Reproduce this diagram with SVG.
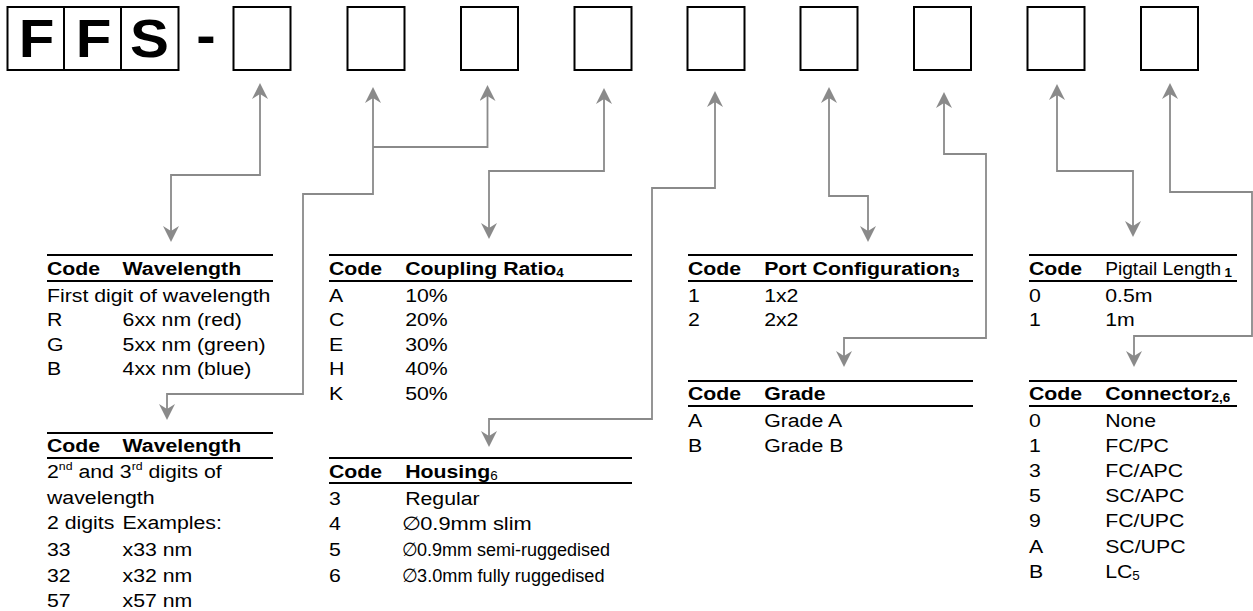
<svg xmlns="http://www.w3.org/2000/svg" width="1253" height="611" viewBox="0 0 1253 611">
<style>
.t{font-family:"Liberation Sans",Arial,Helvetica,sans-serif;font-size:19px;fill:#000}
.b{font-weight:bold}
.sub{font-size:12px}
.sup{font-size:11px}
.big{font-family:"Liberation Sans",Arial,Helvetica,sans-serif;font-size:53px;font-weight:bold;fill:#000}
.rule{stroke:#000;stroke-width:2}
.box{fill:#fff;stroke:#000;stroke-width:2}
.conn{fill:none;stroke:#8a8a8a;stroke-width:1.8}
.both{marker-start:url(#ah);marker-end:url(#ah)}
.start{marker-start:url(#ah)}
</style>
<defs>
<marker id="ah" viewBox="0 0 16 16" refX="12" refY="8" markerWidth="16" markerHeight="16" markerUnits="userSpaceOnUse" orient="auto-start-reverse">
<path d="M0,0 L16,8 L0,16 L5,8 Z" fill="#8a8a8a"/>
</marker>
</defs>
<rect width="1253" height="611" fill="#fff"/>

<g id="prefix">
<rect class="box" x="7.5" y="7" width="171" height="63"/>
<line class="rule" x1="64" y1="7" x2="64" y2="70"/>
<line class="rule" x1="121" y1="7" x2="121" y2="70"/>
<text class="big" text-anchor="middle" transform="translate(36.5 57) scale(1.1 1)">F</text>
<text class="big" text-anchor="middle" transform="translate(93.5 57) scale(1.1 1)">F</text>
<text class="big" text-anchor="middle" transform="translate(149.5 57) scale(1.1 1)">S</text>
<text class="big" text-anchor="middle" transform="translate(206 54) scale(1.1 1)">-</text>
</g>

<g id="slot1"><rect class="box" x="233.5" y="7" width="57" height="63"/></g>
<g id="slot2"><rect class="box" x="347.5" y="7" width="57" height="63"/></g>
<g id="slot3"><rect class="box" x="461" y="7" width="57" height="63"/></g>
<g id="slot4"><rect class="box" x="574.5" y="7" width="57" height="63"/></g>
<g id="slot5"><rect class="box" x="687.5" y="7" width="57" height="63"/></g>
<g id="slot6"><rect class="box" x="800.5" y="7" width="57" height="63"/></g>
<g id="slot7"><rect class="box" x="914" y="7" width="57" height="63"/></g>
<g id="slot8"><rect class="box" x="1027.5" y="7" width="57" height="63"/></g>
<g id="slot9"><rect class="box" x="1141" y="7" width="57" height="63"/></g>

<g id="connectors">
<path class="conn both" d="M260,87 V175 H171 V238"/>
<path class="conn both" d="M373,91 V194 H303 V394 H167 V416"/>
<path class="conn start" d="M487.5,89 V147 H373"/>
<path class="conn both" d="M604,92 V171 H489 V235"/>
<path class="conn both" d="M715,95 V188 H652 V419 H489 V443"/>
<path class="conn both" d="M829,91 V196 H868 V238"/>
<path class="conn both" d="M944,96 V154 H986 V338 H844 V363"/>
<path class="conn both" d="M1057,88 V171 H1133 V233"/>
<path class="conn both" d="M1170,87 V192 H1252 V336 H1134 V363"/>
</g>

<g id="tbl-wavelength-first">
<line class="rule" x1="47" y1="255" x2="273" y2="255"/>
<line class="rule" x1="47" y1="281" x2="273" y2="281"/>
<g transform="translate(47 0) scale(1.12 1)">
<text class="t b" x="0" y="275">Code</text>
<text class="t b" x="67.5" y="275">Wavelength</text>
<text class="t" x="0" y="302">First digit of wavelength</text>
<text class="t" x="0" y="326">R</text><text class="t" x="67.5" y="326">6xx nm (red)</text>
<text class="t" x="0" y="351">G</text><text class="t" x="67.5" y="351">5xx nm (green)</text>
<text class="t" x="0" y="375">B</text><text class="t" x="67.5" y="375">4xx nm (blue)</text>
</g>
</g>

<g id="tbl-wavelength-digits">
<line class="rule" x1="47" y1="433" x2="273" y2="433"/>
<line class="rule" x1="47" y1="458" x2="273" y2="458"/>
<g transform="translate(47 0) scale(1.12 1)">
<text class="t b" x="0" y="452">Code</text>
<text class="t b" x="67.5" y="452">Wavelength</text>
<text class="t" x="0" y="478">2<tspan class="sup" dy="-8">nd</tspan><tspan dy="8"> and 3</tspan><tspan class="sup" dy="-8">rd</tspan><tspan dy="8"> digits of</tspan></text>
<text class="t" x="0" y="504">wavelength</text>
<text class="t" x="0" y="529">2 digits</text><text class="t" x="67.5" y="529">Examples:</text>
<text class="t" x="0" y="556">33</text><text class="t" x="67.5" y="556">x33 nm</text>
<text class="t" x="0" y="582">32</text><text class="t" x="67.5" y="582">x32 nm</text>
<text class="t" x="0" y="607">57</text><text class="t" x="67.5" y="607">x57 nm</text>
</g>
</g>

<g id="tbl-coupling">
<line class="rule" x1="329" y1="255" x2="632" y2="255"/>
<line class="rule" x1="329" y1="281" x2="632" y2="281"/>
<g transform="translate(329 0) scale(1.12 1)">
<text class="t b" x="0" y="275">Code</text>
<text class="t b" x="68" y="275">Coupling Ratio<tspan class="sub" dy="2">4</tspan></text>
<text class="t" x="0" y="302">A</text><text class="t" x="68" y="302">10%</text>
<text class="t" x="0" y="326">C</text><text class="t" x="68" y="326">20%</text>
<text class="t" x="0" y="351">E</text><text class="t" x="68" y="351">30%</text>
<text class="t" x="0" y="375">H</text><text class="t" x="68" y="375">40%</text>
<text class="t" x="0" y="400">K</text><text class="t" x="68" y="400">50%</text>
</g>
</g>

<g id="tbl-housing">
<line class="rule" x1="329" y1="458" x2="632" y2="458"/>
<line class="rule" x1="329" y1="483" x2="632" y2="483"/>
<g transform="translate(329 0) scale(1.12 1)">
<text class="t b" x="0" y="478">Code</text>
<text class="t b" x="68" y="478">Housing<tspan class="sub" font-weight="normal" dy="2">6</tspan></text>
<text class="t" x="0" y="505">3</text><text class="t" x="68" y="505">Regular</text>
<text class="t" x="0" y="530">4</text><text class="t" x="65" y="530" textLength="116" lengthAdjust="spacingAndGlyphs">∅0.9mm slim</text>
<text class="t" x="0" y="556">5</text><text class="t" x="65" y="556" textLength="186" lengthAdjust="spacingAndGlyphs">∅0.9mm semi-ruggedised</text>
<text class="t" x="0" y="582">6</text><text class="t" x="65" y="582" textLength="181" lengthAdjust="spacingAndGlyphs">∅3.0mm fully ruggedised</text>
</g>
</g>

<g id="tbl-port">
<line class="rule" x1="688" y1="255" x2="973" y2="255"/>
<line class="rule" x1="688" y1="281" x2="973" y2="281"/>
<g transform="translate(688 0) scale(1.12 1)">
<text class="t b" x="0" y="275">Code</text>
<text class="t b" x="68" y="275">Port Configuration<tspan class="sub" dy="2">3</tspan></text>
<text class="t" x="0" y="302">1</text><text class="t" x="68" y="302">1x2</text>
<text class="t" x="0" y="326">2</text><text class="t" x="68" y="326">2x2</text>
</g>
</g>

<g id="tbl-grade">
<line class="rule" x1="688" y1="381" x2="973" y2="381"/>
<line class="rule" x1="688" y1="406" x2="973" y2="406"/>
<g transform="translate(688 0) scale(1.12 1)">
<text class="t b" x="0" y="400">Code</text>
<text class="t b" x="68" y="400">Grade</text>
<text class="t" x="0" y="427">A</text><text class="t" x="68" y="427">Grade A</text>
<text class="t" x="0" y="452">B</text><text class="t" x="68" y="452">Grade B</text>
</g>
</g>

<g id="tbl-pigtail">
<line class="rule" x1="1029" y1="255" x2="1237" y2="255"/>
<line class="rule" x1="1029" y1="281" x2="1237" y2="281"/>
<g transform="translate(1029 0) scale(1.12 1)">
<text class="t b" x="0" y="275">Code</text>
<text class="t" transform="translate(68 275) scale(0.9 1)">Pigtail Length</text>
<text class="t b sub" x="174.5" y="277">1</text>
<text class="t" x="0" y="302">0</text><text class="t" x="68" y="302">0.5m</text>
<text class="t" x="0" y="326">1</text><text class="t" x="68" y="326">1m</text>
</g>
</g>

<g id="tbl-connector">
<line class="rule" x1="1029" y1="381" x2="1237" y2="381"/>
<line class="rule" x1="1029" y1="406" x2="1237" y2="406"/>
<g transform="translate(1029 0) scale(1.12 1)">
<text class="t b" x="0" y="400">Code</text>
<text class="t b" x="68" y="400">Connector<tspan class="sub" dy="2">2,6</tspan></text>
<text class="t" x="0" y="427">0</text><text class="t" x="68" y="427">None</text>
<text class="t" x="0" y="452">1</text><text class="t" x="68" y="452">FC/PC</text>
<text class="t" x="0" y="477">3</text><text class="t" x="68" y="477">FC/APC</text>
<text class="t" x="0" y="502">5</text><text class="t" x="68" y="502">SC/APC</text>
<text class="t" x="0" y="527">9</text><text class="t" x="68" y="527">FC/UPC</text>
<text class="t" x="0" y="553">A</text><text class="t" x="68" y="553">SC/UPC</text>
<text class="t" x="0" y="578">B</text><text class="t" x="68" y="578">LC<tspan class="sub" dy="2">5</tspan></text>
</g>
</g>
</svg>
